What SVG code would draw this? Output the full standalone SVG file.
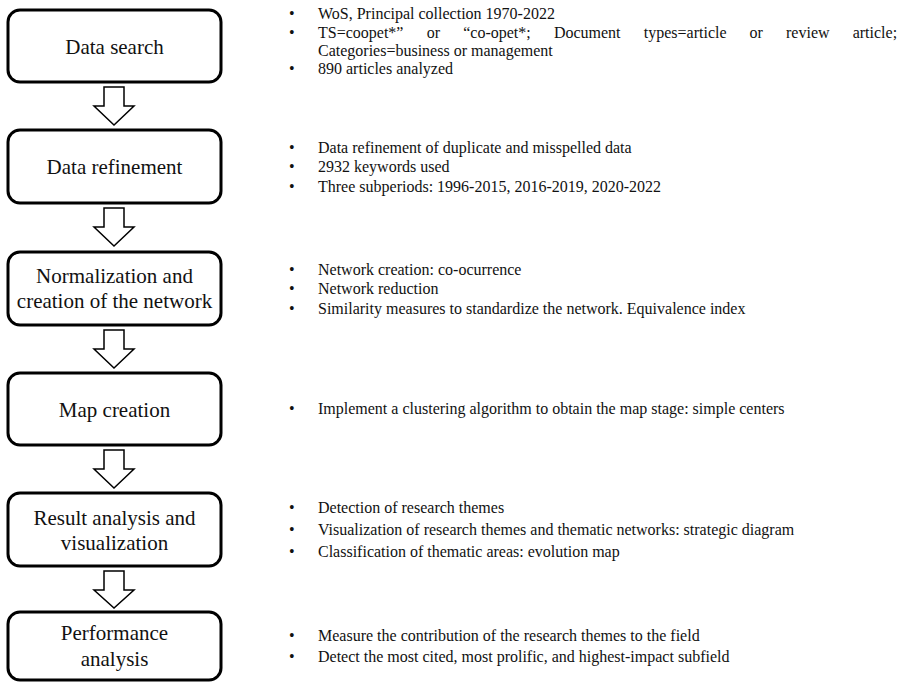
<svg xmlns="http://www.w3.org/2000/svg" width="899" height="682" viewBox="0 0 899 682">
<style>
.box{fill:#fff;stroke:#000;stroke-width:3}
.lbl{font-family:"Liberation Serif","Times New Roman",serif;font-size:21px;fill:#111;text-anchor:middle}
.txt{font-family:"Liberation Serif","Times New Roman",serif;font-size:16px;fill:#111}
.arr{fill:#fff;stroke:#000;stroke-width:1.5;stroke-linejoin:miter}
</style>
<rect width="899" height="682" fill="#fff"/>
<g id="connectors">
<polygon class="arr" points="104,87 124,87 124,106 134,106 114,125 94,106 104,106"/>
<polygon class="arr" points="104,208 124,208 124,227 134,227 114,246 94,227 104,227"/>
<polygon class="arr" points="104,330 124,330 124,349 134,349 114,368 94,349 104,349"/>
<polygon class="arr" points="104,450 124,450 124,469 134,469 114,488 94,469 104,469"/>
<polygon class="arr" points="104,571 124,571 124,590 134,590 114,608 94,590 104,590"/>
</g>
<g id="node1">
<rect class="box" x="8" y="10" width="213" height="72" rx="12"/>
<text class="lbl" x="114.5" y="53.5">Data search</text>
</g>
<g id="node2">
<rect class="box" x="8" y="130" width="213" height="73" rx="12"/>
<text class="lbl" x="114.5" y="174">Data refinement</text>
</g>
<g id="node3">
<rect class="box" x="8" y="252" width="213" height="73" rx="12"/>
<text class="lbl" x="114.5" y="283">Normalization and</text>
<text class="lbl" x="114.5" y="308">creation of the network</text>
</g>
<g id="node4">
<rect class="box" x="8" y="373" width="213" height="72" rx="12"/>
<text class="lbl" x="114.5" y="416.5">Map creation</text>
</g>
<g id="node5">
<rect class="box" x="8" y="493" width="213" height="73" rx="12"/>
<text class="lbl" x="114.5" y="525">Result analysis and</text>
<text class="lbl" x="114.5" y="550">visualization</text>
</g>
<g id="node6">
<rect class="box" x="8" y="612" width="213" height="68" rx="12"/>
<text class="lbl" x="114.5" y="640">Performance</text>
<text class="lbl" x="114.5" y="666">analysis</text>
</g>
<g id="notes1">
<text class="txt" x="289" y="18.5">•</text>
<text class="txt" x="318" y="18.5">WoS, Principal collection 1970-2022</text>
<text class="txt" x="289" y="37.5">•</text>
<text class="txt" y="37.5"><tspan x="318">TS=coopet*”</tspan><tspan x="426.7">or</tspan><tspan x="463.2">“co-opet*;</tspan><tspan x="553.9">Document</tspan><tspan x="643.8">types=article</tspan><tspan x="749.5">or</tspan><tspan x="786">review</tspan><tspan x="852.7">article;</tspan></text>
<text class="txt" x="318" y="55.5">Categories=business or management</text>
<text class="txt" x="289" y="74">•</text>
<text class="txt" x="318" y="74">890 articles analyzed</text>
</g>
<g id="notes2">
<text class="txt" x="289" y="153">•</text>
<text class="txt" x="318" y="153">Data refinement of duplicate and misspelled data</text>
<text class="txt" x="289" y="172">•</text>
<text class="txt" x="318" y="172">2932 keywords used</text>
<text class="txt" x="289" y="191.5">•</text>
<text class="txt" x="318" y="191.5">Three subperiods: 1996-2015, 2016-2019, 2020-2022</text>
</g>
<g id="notes3">
<text class="txt" x="289" y="274.5">•</text>
<text class="txt" x="318" y="274.5">Network creation: co-ocurrence</text>
<text class="txt" x="289" y="294">•</text>
<text class="txt" x="318" y="294">Network reduction</text>
<text class="txt" x="289" y="314">•</text>
<text class="txt" x="318" y="314">Similarity measures to standardize the network. Equivalence index</text>
</g>
<g id="notes4">
<text class="txt" x="289" y="413.5">•</text>
<text class="txt" x="318" y="413.5">Implement a clustering algorithm to obtain the map stage: simple centers</text>
</g>
<g id="notes5">
<text class="txt" x="289" y="513">•</text>
<text class="txt" x="318" y="513">Detection of research themes</text>
<text class="txt" x="289" y="535">•</text>
<text class="txt" x="318" y="535">Visualization of research themes and thematic networks: strategic diagram</text>
<text class="txt" x="289" y="557">•</text>
<text class="txt" x="318" y="557">Classification of thematic areas: evolution map</text>
</g>
<g id="notes6">
<text class="txt" x="289" y="641">•</text>
<text class="txt" x="318" y="641">Measure the contribution of the research themes to the field</text>
<text class="txt" x="289" y="662">•</text>
<text class="txt" x="318" y="662">Detect the most cited, most prolific, and highest-impact subfield</text>
</g>
</svg>
